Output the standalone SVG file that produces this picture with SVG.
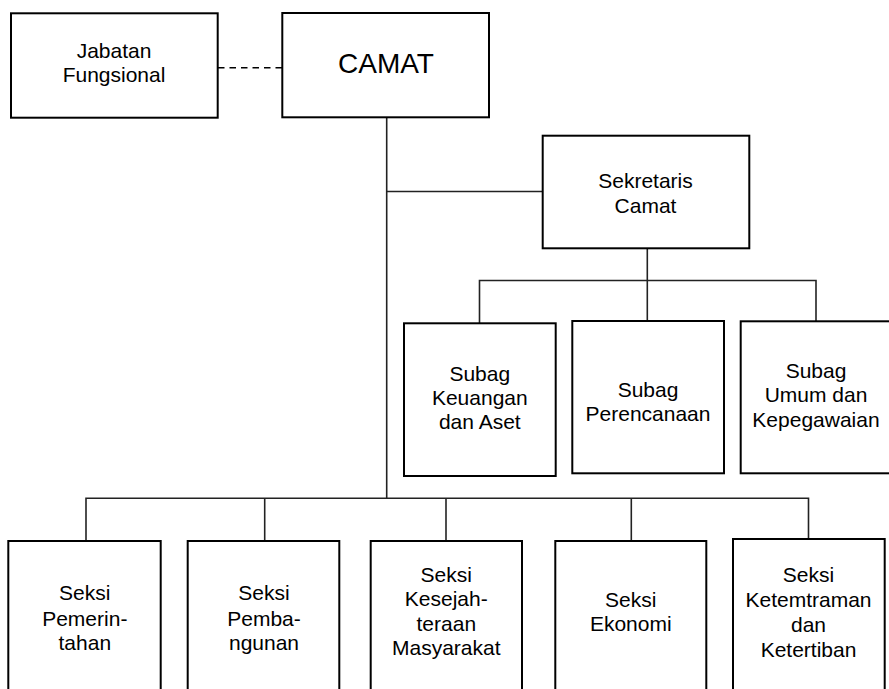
<svg xmlns="http://www.w3.org/2000/svg" width="889" height="689" viewBox="0 0 889 689">
<style>
.box{fill:#fff;stroke:#000;stroke-width:2}
.ln{fill:none;stroke:#222;stroke-width:1.6}
.dash{fill:none;stroke:#000;stroke-width:1.6;stroke-dasharray:6.5,5}
text{font-family:"Liberation Sans",Arial,sans-serif;font-size:21px;fill:#000;text-anchor:middle}
.big{font-size:28px}
</style>
<rect width="889" height="689" fill="#fff"/>
<g id="connectors">
<line class="dash" x1="218" y1="67.7" x2="282" y2="67.7"/>
<line class="ln" x1="386.7" y1="117" x2="386.7" y2="498.3"/>
<line class="ln" x1="386.7" y1="191.5" x2="542.7" y2="191.5"/>
<line class="ln" x1="647.3" y1="248.3" x2="647.3" y2="321"/>
<polyline class="ln" points="479.5,323 479.5,280.5 816,280.5 816,321"/>
<polyline class="ln" points="86,541 86,498.3 808.5,498.3 808.5,539"/>
<line class="ln" x1="264.7" y1="498.3" x2="264.7" y2="541"/>
<line class="ln" x1="446" y1="498.3" x2="446" y2="541"/>
<line class="ln" x1="631.3" y1="498.3" x2="631.3" y2="541"/>
</g>
<g id="jabatan">
<rect class="box" x="11" y="13.3" width="206.7" height="104.4"/>
<text x="114" y="58">Jabatan</text>
<text x="114" y="82.3">Fungsional</text>
</g>
<g id="camat">
<rect class="box" x="282.3" y="13" width="206.7" height="104.3"/>
<text class="big" x="386" y="73.3">CAMAT</text>
</g>
<g id="sekretaris">
<rect class="box" x="542.7" y="135.7" width="206.6" height="112.6"/>
<text x="645.5" y="188.3">Sekretaris</text>
<text x="645.5" y="213.3">Camat</text>
</g>
<g id="subag-keuangan">
<rect class="box" x="404" y="323.3" width="151.7" height="152.7"/>
<text x="479.8" y="381">Subag</text>
<text x="479.8" y="405">Keuangan</text>
<text x="479.8" y="428.5">dan Aset</text>
</g>
<g id="subag-perencanaan">
<rect class="box" x="572.3" y="321" width="151.7" height="152.3"/>
<text x="648" y="396.7">Subag</text>
<text x="648" y="421">Perencanaan</text>
</g>
<g id="subag-umum">
<rect class="box" x="740.7" y="321.3" width="152" height="152"/>
<text x="816" y="377.7">Subag</text>
<text x="816" y="402.3">Umum dan</text>
<text x="816" y="426.7">Kepegawaian</text>
</g>
<g id="seksi-pemerintahan">
<rect class="box" x="8.3" y="541" width="152.4" height="160"/>
<text x="84.8" y="600">Seksi</text>
<text x="84.8" y="625.7">Pemerin-</text>
<text x="84.8" y="650.3">tahan</text>
</g>
<g id="seksi-pembangunan">
<rect class="box" x="187.7" y="541" width="151.6" height="160"/>
<text x="264" y="600">Seksi</text>
<text x="264" y="625.7">Pemba-</text>
<text x="264" y="650.3">ngunan</text>
</g>
<g id="seksi-kesejahteraan">
<rect class="box" x="370.7" y="541" width="151.3" height="160"/>
<text x="446.3" y="581.7">Seksi</text>
<text x="446.3" y="606.3">Kesejah-</text>
<text x="446.3" y="630.5">teraan</text>
<text x="446.3" y="655">Masyarakat</text>
</g>
<g id="seksi-ekonomi">
<rect class="box" x="555.3" y="541" width="151" height="160"/>
<text x="630.8" y="606.7">Seksi</text>
<text x="630.8" y="631">Ekonomi</text>
</g>
<g id="seksi-ketemtraman">
<rect class="box" x="733" y="539" width="151.7" height="162"/>
<text x="808.5" y="581.7">Seksi</text>
<text x="808.5" y="606.7">Ketemtraman</text>
<text x="808.5" y="631.7">dan</text>
<text x="808.5" y="656.7">Ketertiban</text>
</g>
</svg>
